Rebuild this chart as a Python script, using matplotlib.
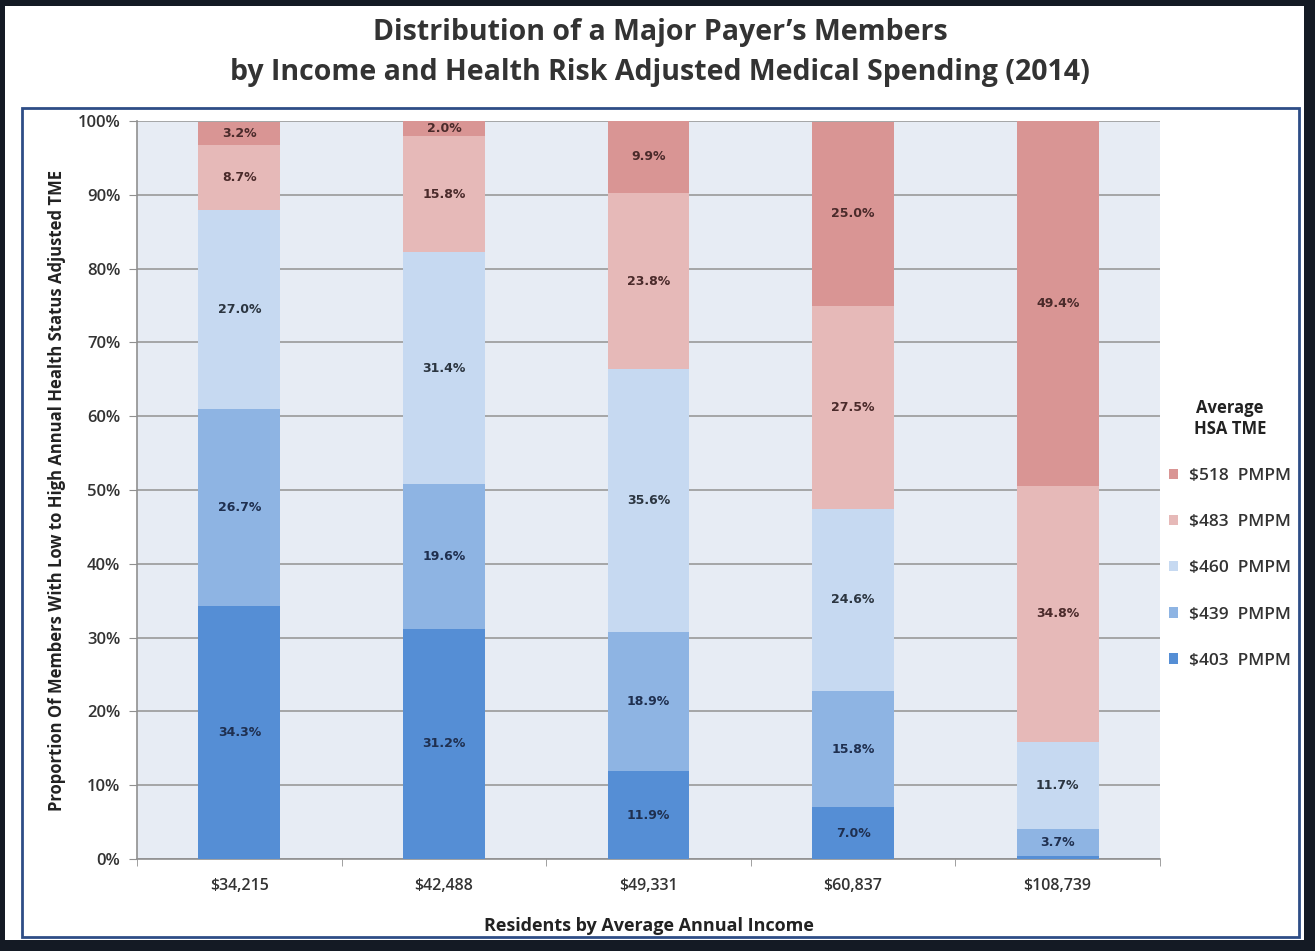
import matplotlib

matplotlib.use("Agg")
import matplotlib.pyplot as plt
from matplotlib.patches import Rectangle, Patch
import numpy as np

# data
incomes = ["$34,215", "$42,488", "$49,331", "$60,837", "$108,739"]
tiers = ["$403  PMPM", "$439  PMPM", "$460  PMPM", "$483  PMPM", "$518  PMPM"]
tme_403 = [34.3, 31.2, 11.9, 7.0, 0.4]
tme_439 = [26.7, 19.6, 18.9, 15.8, 3.7]
tme_460 = [27.0, 31.4, 35.6, 24.6, 11.7]
tme_483 = [8.7, 15.8, 23.8, 27.5, 34.8]
tme_518 = [3.2, 2.0, 9.9, 25.0, 49.4]

colors = ["#558ED5", "#8EB4E3", "#C6D9F1", "#E6B9B8", "#D99594"]
text_colors = ["#1F2F4F", "#1F2F4F", "#2B3540", "#4A2A2A", "#4A2A2A"]

fig = plt.figure(figsize=(13.15, 9.51), dpi=100)
fig.patch.set_facecolor("#141A24")

# white page + blue framed box
fig.add_artist(Rectangle((0.004, 0.012), 0.988, 0.982, transform=fig.transFigure,
                         facecolor="white", edgecolor="none", zorder=-2))
fig.add_artist(Rectangle((0.017, 0.015), 0.971, 0.871, transform=fig.transFigure,
                         facecolor="white", edgecolor="#2E4D86", lw=2.0, zorder=-1))

fig.text(0.502, 0.966, "Distribution of a Major Payer\u2019s Members",
         ha="center", va="center", fontsize=20.5, fontweight="bold",
         family="Open Sans", color="#333333")
fig.text(0.502, 0.924, "by Income and Health Risk Adjusted Medical Spending (2014)",
         ha="center", va="center", fontsize=20.5, fontweight="bold",
         family="Open Sans", color="#333333")

ax = fig.add_axes([0.1042, 0.0967, 0.7779, 0.7761])
ax.set_facecolor("#E7ECF4")

x = np.arange(len(incomes))
series = [tme_403, tme_439, tme_460, tme_483, tme_518]
bottom = np.zeros(len(incomes))
for vals, col, tcol in zip(series, colors, text_colors):
    vals = np.array(vals)
    ax.bar(x, vals, width=0.4, bottom=bottom, color=col, zorder=3)
    for xi, b, v in zip(x, bottom, vals):
        if v >= 1.0:
            ax.text(xi, b + v / 2, f"{v:.1f}%", ha="center", va="center",
                    fontsize=9, fontweight="bold", color=tcol, zorder=4)
    bottom += vals

ax.set_xlim(-0.5, len(incomes) - 0.5)
ax.set_ylim(0, 100)
ax.set_yticks(np.arange(0, 101, 10))
ax.set_yticklabels([f"{v}%" for v in range(0, 101, 10)])
ax.yaxis.grid(True, color="#A0A0A0", lw=1.3, zorder=1)
ax.set_axisbelow(True)

ax.set_xticks(x)
ax.set_xticklabels(incomes)
ax.set_xticks(np.arange(-0.5, len(incomes)), minor=True)
ax.tick_params(axis="x", which="major", length=0, pad=14, labelsize=11.5,
               labelcolor="#333333")
ax.tick_params(axis="x", which="minor", length=5, color="#909090")
ax.tick_params(axis="y", length=6, color="#909090", labelsize=12,
               labelcolor="#333333", pad=6)
for lab in ax.get_xticklabels() + ax.get_yticklabels():
    lab.set_family("Open Sans")
    lab.set_fontweight("semibold")

for side in ("top", "right"):
    ax.spines[side].set_visible(False)
for side in ("left", "bottom"):
    ax.spines[side].set_color("#909090")
    ax.spines[side].set_linewidth(1.2)

ax.set_xlabel("Residents by Average Annual Income", fontsize=13,
              fontweight="bold", family="Open Sans", color="#222222", labelpad=16)
ax.set_ylabel("Proportion Of Members With Low to High Annual Health Status Adjusted TME",
              fontsize=12, fontweight="bold", family="Open Sans", color="#222222",
              labelpad=8)

handles = [Patch(facecolor=c, edgecolor="none") for c in colors[::-1]]
leg = ax.legend(handles, tiers[::-1], title="Average\nHSA TME",
                loc="upper left", bbox_to_anchor=(0.877, 0.597),
                bbox_transform=fig.transFigure, frameon=False,
                fontsize=12.5, title_fontsize=12, labelspacing=1.74,
                handlelength=0.55, handleheight=0.55, handletextpad=0.6)
leg.get_title().set_fontweight("bold")
leg.get_title().set_family("Open Sans")
leg.get_title().set_color("#222222")
leg.get_title().set_multialignment("center")
for t in leg.get_texts():
    t.set_family("Open Sans")
    t.set_color("#333333")
    t.set_fontweight("semibold")

fig.savefig("out.png", dpi=100, facecolor=fig.get_facecolor())
